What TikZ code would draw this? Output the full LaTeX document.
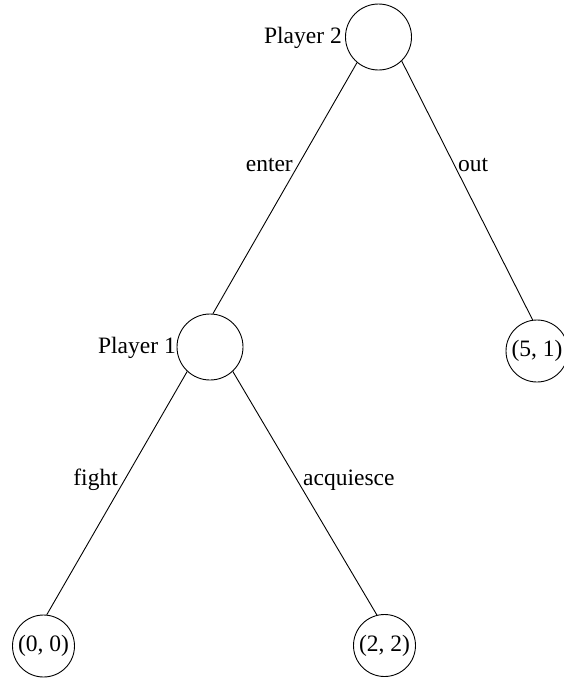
\documentclass[tikz,border=0pt]{standalone}
\usepackage{fontspec}
\setmainfont{Liberation Serif}
\begin{document}
\begin{tikzpicture}[x=1pt,y=-1pt,
  font=\fontsize{23.5}{28}\selectfont,
  player/.style={circle,draw,line width=0.9pt,minimum size=66pt,inner sep=0pt},
  payoff/.style={circle,draw,line width=0.9pt,minimum size=62pt,inner sep=0pt},
  edge/.style={line width=0.9pt},
  lbl/.style={inner sep=0pt}]
\useasboundingbox (0,0) rectangle (564,678);
\node[player] (r) at (378.5,37) {};
\node[player] (p1) at (210,347) {};
\node[payoff] (o) at (537,351) {(5, 1)};
\node[payoff] (a) at (43.5,646) {(0, 0)};
\node[payoff] (b) at (384.5,645.5) {(2, 2)};
\draw[edge] (r.230) -- (p1.85);
\draw[edge] (r.314) -- (o.98);
\draw[edge] (p1.227) -- (a.84);
\draw[edge] (p1.313) -- (b.104);
\node[lbl,anchor=base east] (l2) at (342,43) {Player 2};
\node[lbl,anchor=base east] (l1) at (176,353) {Player 1};
\node[lbl,anchor=base east] (le) at (293,171) {enter};
\node[lbl,anchor=base west] (lo) at (458,171) {out};
\node[lbl,anchor=base east] (lf) at (118,485) {fight};
\node[lbl,anchor=base west] (lq) at (303,485) {acquiesce};
\end{tikzpicture}
\end{document}
